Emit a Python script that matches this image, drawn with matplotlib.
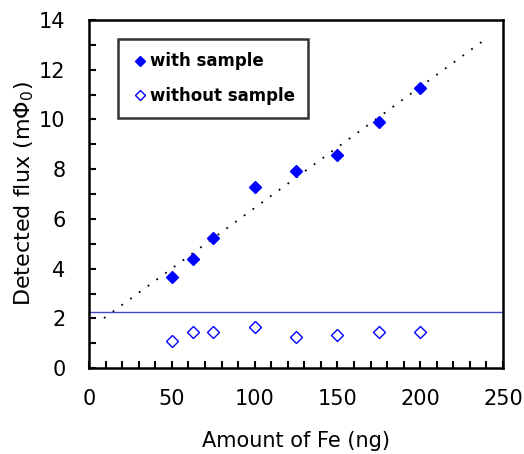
import numpy as np
import matplotlib
matplotlib.use("Agg")
import matplotlib.pyplot as plt
from matplotlib.ticker import MultipleLocator

# amount of Fe (ng) and detected flux (m Phi_0)
fe_ng = [50, 62.5, 75, 100, 125, 150, 175, 200]
flux_with = [3.66, 4.38, 5.24, 7.27, 7.92, 8.59, 9.91, 11.27]
flux_without = [1.11, 1.45, 1.46, 1.65, 1.27, 1.34, 1.46, 1.46]
noise_level = 2.24
trend_range = [9, 237]

BLUE = "#0000FF"

fig = plt.figure(figsize=(5.24, 4.54), dpi=100)
ax = fig.add_axes([0.170, 0.189, 0.790, 0.767])

# linear fit of the "with sample" points, drawn dotted
k, b = np.polyfit(fe_ng, flux_with, 1)
xs = np.array(trend_range, dtype=float)
ax.plot(xs, k * xs + b, color="black", linestyle=(0, (1, 5)), linewidth=1.3, zorder=2)

ax.axhline(noise_level, color="#4444CC", linewidth=1.0, zorder=2)

ax.plot(fe_ng, flux_with, linestyle="none", marker="D", markersize=6,
        color=BLUE, markeredgecolor=BLUE, label="with sample", zorder=3)
ax.plot(fe_ng, flux_without, linestyle="none", marker="D", markersize=6,
        markerfacecolor="white", markeredgecolor=BLUE, markeredgewidth=1.0,
        label="without sample", zorder=3)

ax.set_xlim(0, 250)
ax.set_ylim(0, 14)
ax.xaxis.set_major_locator(MultipleLocator(50))
ax.xaxis.set_minor_locator(MultipleLocator(10))
ax.yaxis.set_major_locator(MultipleLocator(2))
ax.yaxis.set_minor_locator(MultipleLocator(1))
ax.tick_params(which="both", direction="in", top=False, right=False,
               width=1.5, length=5, labelsize=15)
ax.tick_params(axis="x", which="major", pad=15)
ax.tick_params(axis="y", which="major", pad=17)
for s in ax.spines.values():
    s.set_linewidth(1.8)

ax.set_xlabel("Amount of Fe (ng)", fontsize=15, labelpad=16)
ax.set_ylabel("Detected flux (m$\\Phi_0$)", fontsize=16, labelpad=2)

leg = ax.legend(loc="upper left", bbox_to_anchor=(0.07, 0.945), fontsize=12,
                frameon=True, fancybox=False, handletextpad=0.1,
                handlelength=1.0, borderpad=0.8, labelspacing=1.0,
                markerscale=0.8, borderaxespad=0)
leg.get_frame().set_edgecolor("black")
leg.get_frame().set_linewidth(1.8)
for t in leg.get_texts():
    t.set_fontweight("bold")

fig.savefig("out.png", dpi=100)
